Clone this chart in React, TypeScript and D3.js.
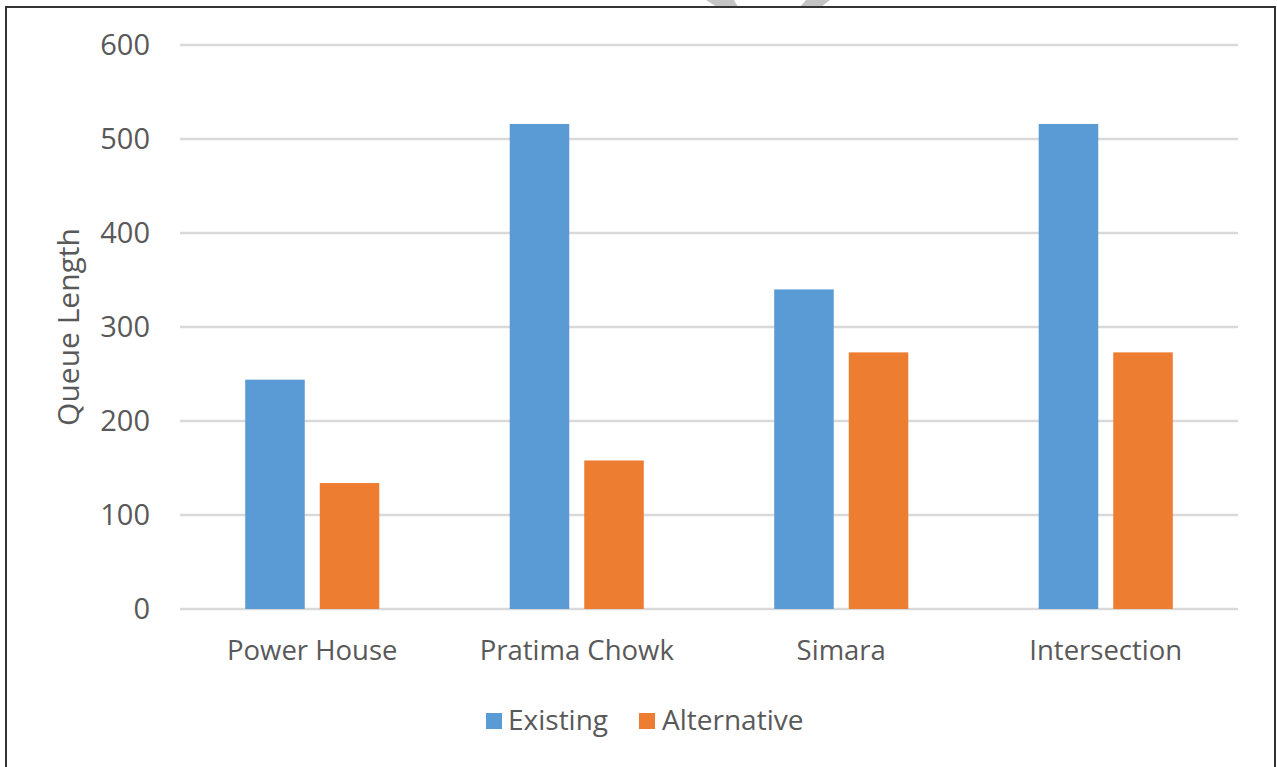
import React from "react";
import * as d3 from "d3";

const categories = ["Power House", "Pratima Chowk", "Simara", "Intersection"];
const seriesNames = ["Existing", "Alternative"];
const existingValues = [244, 516, 340, 516];
const alternativeValues = [134, 158, 273, 273];
const yTicks = [0, 100, 200, 300, 400, 500, 600];
const seriesColors = ["#5B9BD5", "#ED7D31"];

const W = 1277;
const H = 767;
const FONT = "'Open Sans', sans-serif";
const TEXT = "#595959";

export default function App() {
  const x0 = d3
    .scaleBand<string>()
    .domain(categories)
    .range([180, 1238])
    .paddingInner(0.493)
    .paddingOuter(0.2465);
  const x1 = d3
    .scaleBand<string>()
    .domain(seriesNames)
    .range([0, x0.bandwidth()])
    .paddingInner(0.2013)
    .paddingOuter(0);
  const y = d3.scaleLinear().domain([0, 600]).range([609, 45]);

  const values = [existingValues, alternativeValues];

  const legendItems = [
    { name: seriesNames[0], color: seriesColors[0], sx: 486, tx: 508 },
    { name: seriesNames[1], color: seriesColors[1], sx: 639, tx: 662 },
  ];

  return (
    <svg
      width={W}
      height={H}
      style={{ position: "absolute", left: 0, top: 0, display: "block", background: "#fff" }}
      fontFamily={FONT}
    >
      <rect x={0} y={0} width={W} height={H} fill="#fff" />
      {/* partial watermark above frame */}
      <path d="M706,0 L734,0 L738,7 L717,7 Z" fill="#c4c4c4" />
      <path d="M806,0 L830,0 L821,7 L800,7 Z" fill="#c4c4c4" />
      {/* frame */}
      <path d={`M6,${H + 5} L6,7 L1275,7 L1275,${H + 5}`} fill="none" stroke="#333" strokeWidth={2} />

      {/* gridlines */}
      {yTicks.map((t) => (
        <line
          key={t}
          x1={180}
          x2={1238}
          y1={Math.round(y(t))}
          y2={Math.round(y(t))}
          stroke="#d9d9d9"
          strokeWidth={2.5}
        />
      ))}
      {/* y tick labels */}
      {yTicks.map((t) => (
        <text
          key={"l" + t}
          x={150}
          y={y(t)}
          dy="0.35em"
          textAnchor="end"
          fontSize={29}
          fill={TEXT}
        >
          {t}
        </text>
      ))}

      {/* bars */}
      {categories.map((c, ci) =>
        seriesNames.map((s, si) => {
          const v = values[si][ci];
          return (
            <rect
              key={c + s}
              x={(x0(c) as number) + (x1(s) as number)}
              y={y(v)}
              width={x1.bandwidth()}
              height={y(0) - y(v)}
              fill={seriesColors[si]}
            />
          );
        })
      )}

      {/* category labels */}
      {categories.map((c) => (
        <text
          key={"c" + c}
          x={(x0(c) as number) + x0.bandwidth() / 2}
          y={660}
          textAnchor="middle"
          fontSize={27.5}
          fill={TEXT}
        >
          {c}
        </text>
      ))}

      {/* y axis title */}
      <text
        transform="translate(79,327) rotate(-90)"
        textAnchor="middle"
        fontSize={30}
        fill={TEXT}
      >
        Queue Length
      </text>

      {/* legend */}
      {legendItems.map((it) => (
        <g key={it.name}>
          <rect x={it.sx} y={713} width={16} height={16} fill={it.color} />
          <text x={it.tx} y={730} fontSize={28} fill={TEXT}>
            {it.name}
          </text>
        </g>
      ))}
    </svg>
  );
}
